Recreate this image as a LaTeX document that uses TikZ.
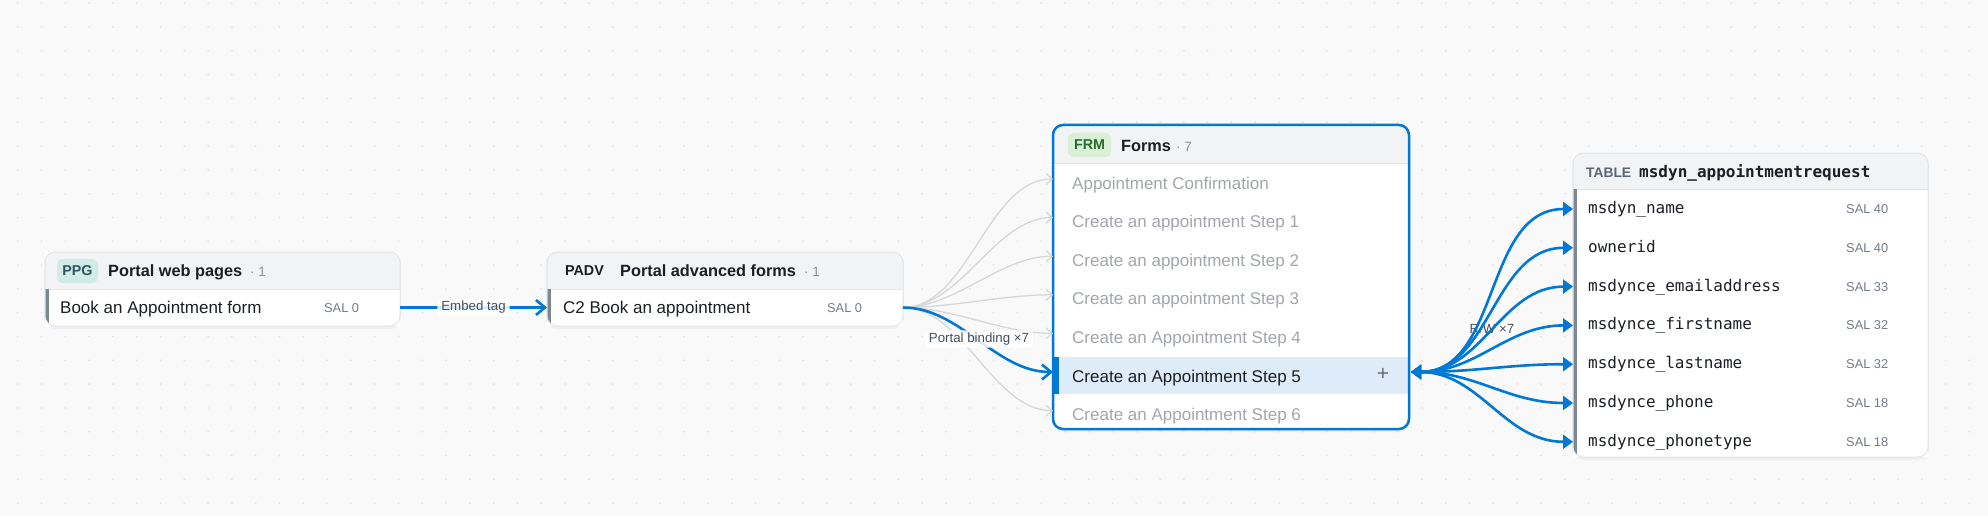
\documentclass[tikz,border=0pt]{standalone}
\usepackage{fontspec}
\setmainfont{Liberation Sans}
\newfontfamily\monof{DejaVu Sans Mono}
\usetikzlibrary{arrows.meta}
\definecolor{bgc}{HTML}{F9F9FA}
\definecolor{dotc}{HTML}{E4E5E7}
\definecolor{cardline}{HTML}{E2E5E9}
\definecolor{hdr}{HTML}{F2F3F5}
\definecolor{mblue}{HTML}{0078D4}
\definecolor{edgegray}{HTML}{D6D7D9}
\definecolor{bargray}{HTML}{7E8794}
\definecolor{ink}{HTML}{1B1F24}
\definecolor{muted}{HTML}{8A9099}
\definecolor{faded}{HTML}{A2A6AC}
\definecolor{salc}{HTML}{737B86}
\definecolor{hlc}{HTML}{DEEBF8}
\definecolor{ppgbg}{HTML}{D2EBE6}
\definecolor{ppgfg}{HTML}{2E5560}
\definecolor{frmbg}{HTML}{DAF0D6}
\definecolor{frmfg}{HTML}{2A6A2E}
\definecolor{tblfg}{HTML}{5B6473}
\definecolor{labelc}{HTML}{474F5A}
\definecolor{plusc}{HTML}{6B7079}
\tikzset{
  card/.style={rectangle, inner sep=0pt, outer sep=0pt, fill=white},
  rowbox/.style={rectangle, inner sep=0pt, outer sep=0pt},
  rowtxt/.style={anchor=base west, inner sep=0pt, font=\fontsize{17}{20}\selectfont, text=ink},
  fadedtxt/.style={rowtxt, text=faded},
  montxt/.style={anchor=base west, inner sep=0pt, font=\monof\fontsize{16}{19}\selectfont, text=ink},
  titletxt/.style={anchor=base west, inner sep=0pt, font=\bfseries\fontsize{16.3}{19}\selectfont, text=ink},
  counttxt/.style={anchor=base west, inner sep=0pt, font=\fontsize{13.5}{15}\selectfont, text=muted},
  saltxt/.style={anchor=base west, inner sep=0pt, font=\fontsize{12.8}{15}\selectfont, text=salc},
  badge/.style={rectangle, rounded corners=6pt, inner sep=0pt, minimum height=24pt, font=\bfseries\fontsize{14.3}{16}\selectfont},
  lbl/.style={rectangle, rounded corners=3pt, fill=white, fill opacity=0.85, text opacity=1, inner xsep=4pt, inner ysep=2.5pt, font=\fontsize{13.3}{15}\selectfont, text=labelc},
  shadowfill/.style={fill=black, opacity=0.035, rounded corners=11pt},
  grayedge/.style={draw=edgegray, line width=1.3pt, -{Straight Barb[length=6pt,width=11pt]}},
  blueedge/.style={draw=mblue, line width=2.6pt, -{Straight Barb[length=9pt,width=15pt]}},
  rwedge/.style={draw=mblue, line width=2.6pt, {Triangle[length=10pt,width=14pt]}-{Triangle[length=10pt,width=14pt]}},
}
\begin{document}
\begin{tikzpicture}[x=1pt,y=-1pt]
\fill[bgc] (0,0) rectangle (1988,516);
\useasboundingbox (0,0) rectangle (1988,516);
\foreach \i in {0,...,83}{\foreach \j in {0,...,21}{\fill[dotc] ({17.7+23.8*\i},{3.3+23.8*\j}) circle (1pt);}}

% ---------------- PPG card
\fill[shadowfill] (44,252) rectangle (401,329);
\node[card, minimum width=355pt, minimum height=74pt, anchor=north west] (ppg) at (45,252) {};
\begin{scope}
  \clip[rounded corners=10pt] (45,252) rectangle (400,326);
  \fill[hdr] (45,252) rectangle (400,289);
  \draw[cardline, line width=1pt] (45,289) -- (400,289);
  \fill[bargray] (45,289) rectangle (48.5,326);
\end{scope}
\draw[cardline, line width=1pt, rounded corners=10pt] (ppg.north west) rectangle (ppg.south east);
\node[rowbox, minimum width=355pt, minimum height=37pt, anchor=north west] (ppgrow) at (45,289) {};
\node[badge, fill=ppgbg, text=ppgfg, minimum width=41pt] (ppgbadge) at (77.5,271) {PPG};
\node[titletxt] (ppgtitle) at (108,276) {Portal web pages};
\node[counttxt] (ppgcount) at (250,276) {· 1};
\node[rowtxt] (ppgtxt) at (60,313) {Book an Appointment form};
\node[saltxt] (ppgsal) at (324,312) {SAL 0};

% ---------------- PADV card
\fill[shadowfill] (546,252) rectangle (904,329);
\node[card, minimum width=356pt, minimum height=74pt, anchor=north west] (padv) at (547,252) {};
\begin{scope}
  \clip[rounded corners=10pt] (547,252) rectangle (903,326);
  \fill[hdr] (547,252) rectangle (903,289);
  \draw[cardline, line width=1pt] (547,289) -- (903,289);
  \fill[bargray] (547,289) rectangle (550.5,326);
\end{scope}
\draw[cardline, line width=1pt, rounded corners=10pt] (padv.north west) rectangle (padv.south east);
\node[rowbox, minimum width=356pt, minimum height=37pt, anchor=north west] (padvrow) at (547,289) {};
\node[badge, text=ink, minimum width=37pt] (padvbadge) at (584.5,271) {PADV};
\node[titletxt] (padvtitle) at (620,276) {Portal advanced forms};
\node[counttxt] (padvcount) at (804,276) {· 1};
\node[rowtxt] (padvtxt) at (563,313) {C2 Book an appointment};
\node[saltxt] (padvsal) at (827,312) {SAL 0};

% ---------------- Forms card
\fill[shadowfill] (1052,125) rectangle (1410,432);
\node[card, minimum width=356pt, minimum height=304pt, anchor=north west] (forms) at (1053,125) {};
\begin{scope}
  \clip[rounded corners=10pt] (1053,125) rectangle (1409,429);
  \fill[hdr] (1053,125) rectangle (1409,163);
  \draw[cardline, line width=1pt] (1053,163) -- (1409,163);
  \fill[hlc] (1053,357) rectangle (1409,394);
  \fill[mblue] (1054,357) rectangle (1059,394);
\end{scope}
\draw[mblue, line width=2.5pt, rounded corners=10pt] (forms.north west) rectangle (forms.south east);
\node[badge, fill=frmbg, text=frmfg, minimum width=43pt] (frmbadge) at (1089.5,145) {FRM};
\node[titletxt] (formstitle) at (1121,151) {Forms};
\node[counttxt] (formscount) at (1176,151) {· 7};
\foreach \k in {0,...,6}{
  \node[rowbox, minimum width=356pt, minimum height=38.6pt] (f\k) at (1231,{179+38.6*\k}) {};
}
\node[fadedtxt] (f0t) at (1072,189) {Appointment Confirmation};
\node[fadedtxt] (f1t) at (1072,227.6) {Create an appointment Step 1};
\node[fadedtxt] (f2t) at (1072,266.2) {Create an appointment Step 2};
\node[fadedtxt] (f3t) at (1072,304.8) {Create an appointment Step 3};
\node[fadedtxt] (f4t) at (1072,343.4) {Create an Appointment Step 4};
\node[rowtxt] (f5t) at (1072,382) {Create an Appointment Step 5};
\node[fadedtxt] (f6t) at (1072,420.6) {Create an Appointment Step 6};
\node[inner sep=0pt, font=\fontsize{21}{21}\selectfont, text=plusc] (plus) at (1383,374) {+};

% ---------------- Table card
\fill[shadowfill] (1572,153) rectangle (1929,460);
\node[card, minimum width=355pt, minimum height=304pt, anchor=north west] (tbl) at (1573,153) {};
\begin{scope}
  \clip[rounded corners=10pt] (1573,153) rectangle (1928,457);
  \fill[hdr] (1573,153) rectangle (1928,189);
  \draw[cardline, line width=1pt] (1573,189) -- (1928,189);
  \fill[bargray] (1573,189) rectangle (1576.5,457);
\end{scope}
\draw[cardline, line width=1pt, rounded corners=10pt] (tbl.north west) rectangle (tbl.south east);
\node[anchor=base west, inner sep=0pt, font=\bfseries\fontsize{13.8}{15}\selectfont, text=tblfg] (tbllabel) at (1586,177) {TABLE};
\node[anchor=base west, inner sep=0pt, font=\monof\bfseries\fontsize{16}{19}\selectfont, text=ink] (tbltitle) at (1639,177.5) {msdyn\_appointmentrequest};
\foreach \k in {0,...,6}{
  \node[rowbox, minimum width=355pt, minimum height=38.8pt] (t\k) at (1750.5,{209+38.8*\k}) {};
}
\node[montxt] (t0t) at (1588,213.5) {msdyn\_name};
\node[montxt] (t1t) at (1588,252.3) {ownerid};
\node[montxt] (t2t) at (1588,291.1) {msdynce\_emailaddress};
\node[montxt] (t3t) at (1588,329.9) {msdynce\_firstname};
\node[montxt] (t4t) at (1588,368.7) {msdynce\_lastname};
\node[montxt] (t5t) at (1588,407.5) {msdynce\_phone};
\node[montxt] (t6t) at (1588,446.3) {msdynce\_phonetype};
\node[saltxt] (t0s) at (1846,213.5) {SAL 40};
\node[saltxt] (t1s) at (1846,252.3) {SAL 40};
\node[saltxt] (t2s) at (1846,291.1) {SAL 33};
\node[saltxt] (t3s) at (1846,329.9) {SAL 32};
\node[saltxt] (t4s) at (1846,368.7) {SAL 32};
\node[saltxt] (t5s) at (1846,407.5) {SAL 18};
\node[saltxt] (t6s) at (1846,446.3) {SAL 18};

% ---------------- Edges
\draw[blueedge] (ppgrow.east) -- node[lbl] (embedlbl) {Embed tag} (padvrow.west);

\foreach \k in {0,1,2,3,4,6}{
  \draw[grayedge] (padvrow.east) to[out=0,in=180,looseness=0.85] (f\k.west);
}
\draw[blueedge] (padvrow.east) to[out=0,in=180,looseness=0.9] (f5.west);
\node[lbl] (bindlbl) at (979,339) {Portal binding ×7};

\node[lbl] (rwlbl) at (1492,329) {R/W ×7};
\foreach \k in {0,...,6}{
  \draw[rwedge] ([xshift=2pt]f5.east) to[out=0,in=180] (t\k.west);
}
\end{tikzpicture}
\end{document}
